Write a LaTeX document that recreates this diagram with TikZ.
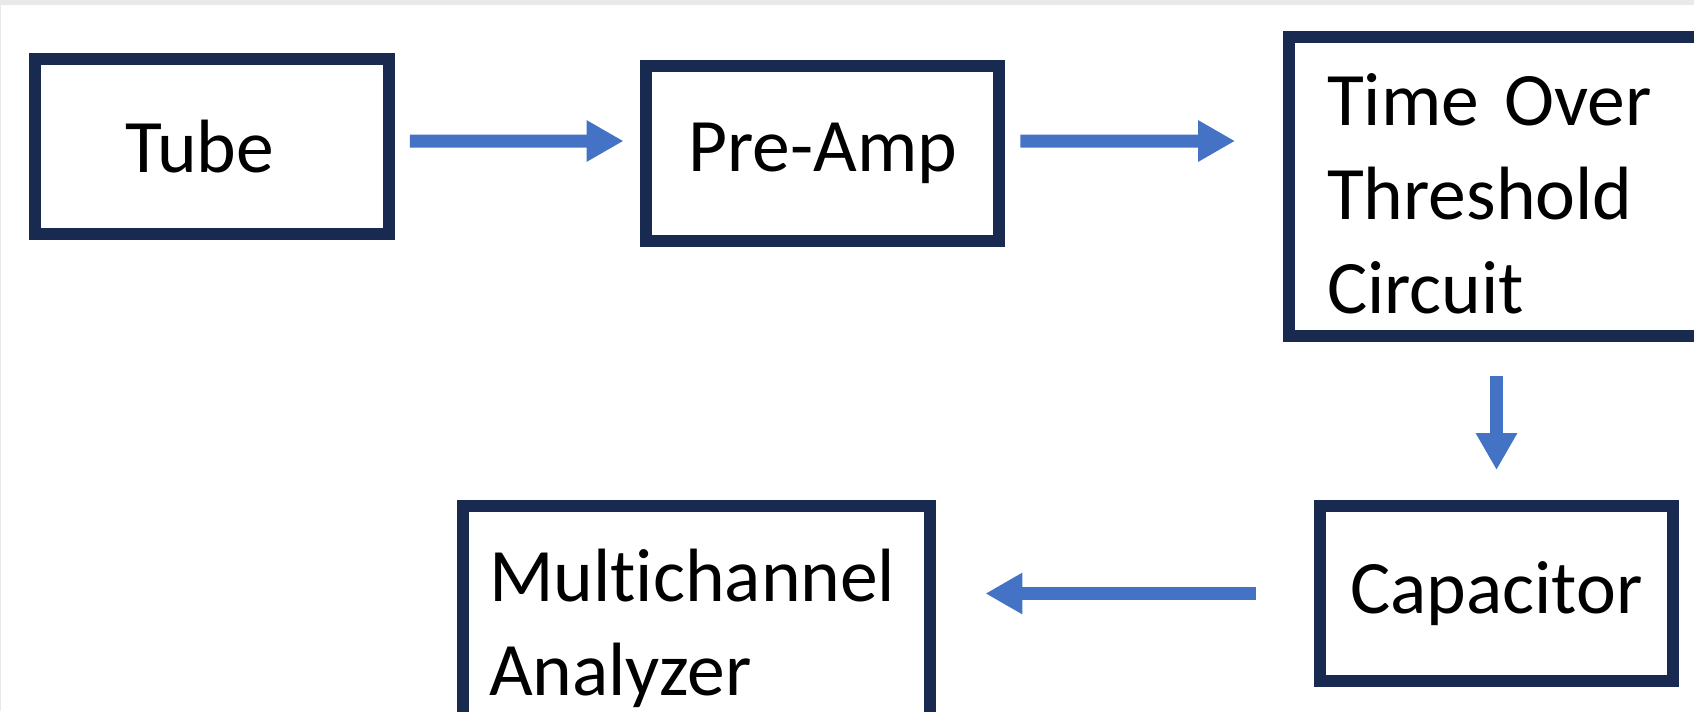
\documentclass[tikz,border=0pt]{standalone}
\usepackage{fontspec}
\setmainfont{Carlito}[Ligatures={NoCommon,NoRare}]
\usepackage{tikz}
\usetikzlibrary{arrows.meta}
\definecolor{boxnavy}{RGB}{24,42,80}
\definecolor{arrowblue}{RGB}{68,114,196}
\definecolor{stripgray}{RGB}{233,233,233}

\begin{document}
\begin{tikzpicture}[x=0.02cm,y=-0.02cm,
	block/.style={draw=boxnavy,line width=0.24cm,minimum width=7.08cm,minimum height=3.5cm,font=\fontsize{43}{53.5}\selectfont},
	flow/.style={draw=arrowblue,line width=0.26cm,-{Triangle[length=0.74cm,width=0.78cm]}}]
	\useasboundingbox (0,0) rectangle (1694,711);
	%FRAME
	\fill[stripgray] (0,0) rectangle (1694,5);
	\draw[stripgray,line width=0.6pt] (0.5,5)--(0.5,711);
	
	%BOXES
	\node[block,text width=3.48cm,align=left,inner xsep=1.8cm] (tube) at (212,146.5) {Tube};
	\node[block] (preamp) at (822.5,153.5) {Pre-Amp};
	\node[block,text width=6.92cm,align=left,inner xsep=0.76cm,minimum height=5.98cm] (tot) at (1500,186.5) {\strut Time Over\\Threshold\\Circuit};
	\node[block] (cap) at (1496.5,593.5) {Capacitor};
	\node[block,text width=8.3cm,align=left,inner xsep=0.53cm,minimum height=4.88cm] (mca) at (696.5,628) {Multichannel\\Analyzer};
	
	%ARROWS
	\draw[flow,shorten <=0.3cm,shorten >=0.32cm] ([yshift=0.11cm]tube.east)--([yshift=0.25cm]preamp.west);
	\draw[flow,shorten <=0.3cm,shorten >=0.96cm] ([yshift=0.25cm]preamp.east)--([yshift=0.91cm]tot.west);
	\draw[flow,shorten <=0.68cm,shorten >=0.6cm] (tot.south -| cap.north)--(cap.north);
	\draw[flow,shorten <=1.16cm,shorten >=0.98cm] (cap.west)--(cap.west -| mca.east);
\end{tikzpicture}
\end{document}
